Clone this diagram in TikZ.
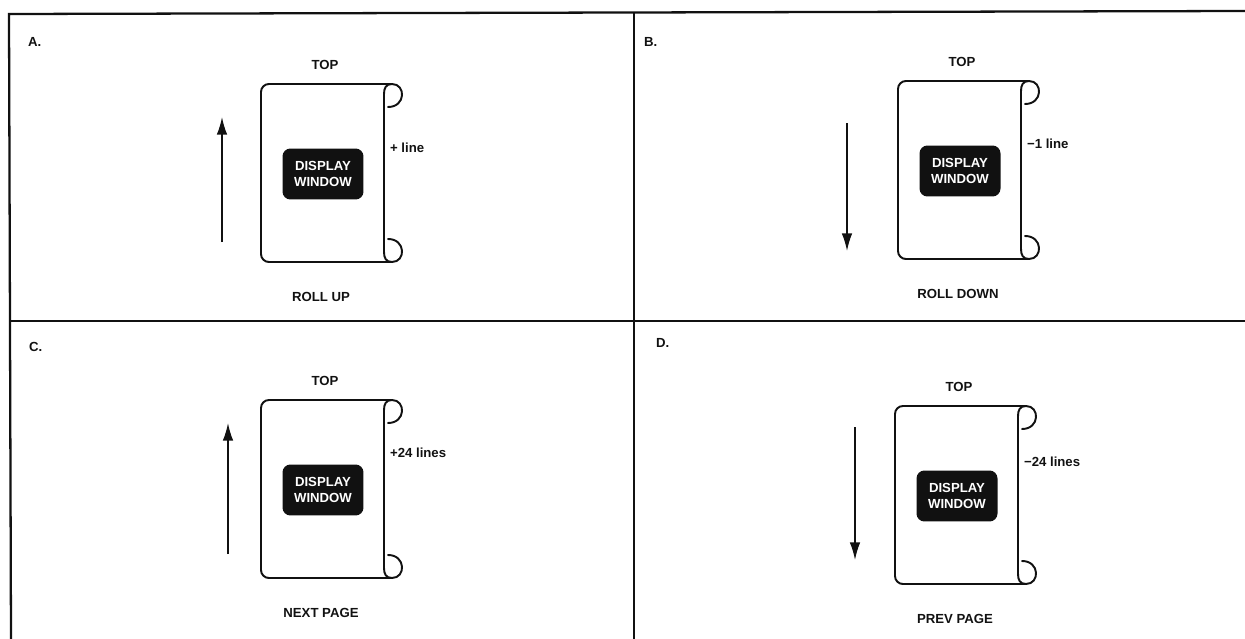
\documentclass[tikz,border=0pt]{standalone}
\usepackage{fontspec}
\setmainfont{Liberation Sans}
\usetikzlibrary{arrows.meta}
\definecolor{ink}{HTML}{111111}
\tikzset{
  frame/.style={line width=1.3pt,draw=ink},
  pageline/.style={line width=1.1pt,draw=ink,line cap=round,line join=round},
  winbox/.style={fill=ink,text=white,rounded corners=4.5pt,minimum width=1.62cm,minimum height=1.02cm,align=center,inner sep=0pt,font=\fontsize{7.5}{9}\selectfont\bfseries},
  lbl/.style={text=ink,inner sep=1pt,font=\fontsize{7.5}{9}\selectfont\bfseries},
  scrollarrow/.style={-{Latex[length=10pt,width=6pt]},line width=0.9pt,draw=ink}
}

\begin{document}
\begin{tikzpicture}[x=0.02cm,y=-0.02cm]
  \useasboundingbox (0,0) rectangle (1245,639);
  % frame
  \draw[frame] (1245,11) -- (9,14) -- (11,639);
  \draw[frame] (634,12) -- (634,639);
  \draw[frame] (10,321) -- (1245,321);
  % panel letters
  \node[lbl,anchor=west] (la) at (26,42) {A.};
  \node[lbl,anchor=west] (lb) at (642,42) {B.};
  \node[lbl,anchor=west] (lc) at (27,347) {C.};
  \node[lbl,anchor=west] (ld) at (654,343) {D.};
  % scrolls
  \foreach \n/\x/\y/\side/\sy/\cap/\ax/\ay/\by in {
      a/261/84/{+ line}/64/{ROLL UP}/-39/158/33,
      b/898/81/{−1 line}/63/{ROLL DOWN}/-51/42/170,
      c/261/400/{+24 lines}/53/{NEXT PAGE}/-33/154/23,
      d/895/406/{−24 lines}/56/{PREV PAGE}/-40/21/154}{
    \begin{scope}[shift={(\x,\y)}]
      \draw[pageline,rounded corners=4.5pt] (131,0) -- (0,0) -- (0,178) -- (131,178);
      \draw[pageline] (131,0) .. controls (125,0) and (123,4) .. (123,10)
        -- (123,168) .. controls (123,174) and (125,178) .. (131,178);
      \draw[pageline] (131,0) .. controls (145,0) and (145,23) .. (127,23);
      \draw[pageline] (127,155) .. controls (145,155) and (145,178) .. (131,178);
      \node[winbox] (win\n) at (62,90) {DISPLAY\\WINDOW};
      \node[lbl] (top\n) at (64,-19) {TOP};
      \node[lbl,anchor=west] (side\n) at (127,\sy) {\side};
      \node[lbl] (cap\n) at (60,213) {\cap};
      \coordinate (from\n) at (\ax,\ay);
      \coordinate (to\n) at (\ax,\by);
      \draw[scrollarrow] (from\n) -- (to\n);
    \end{scope}
  }
\end{tikzpicture}
\end{document}
